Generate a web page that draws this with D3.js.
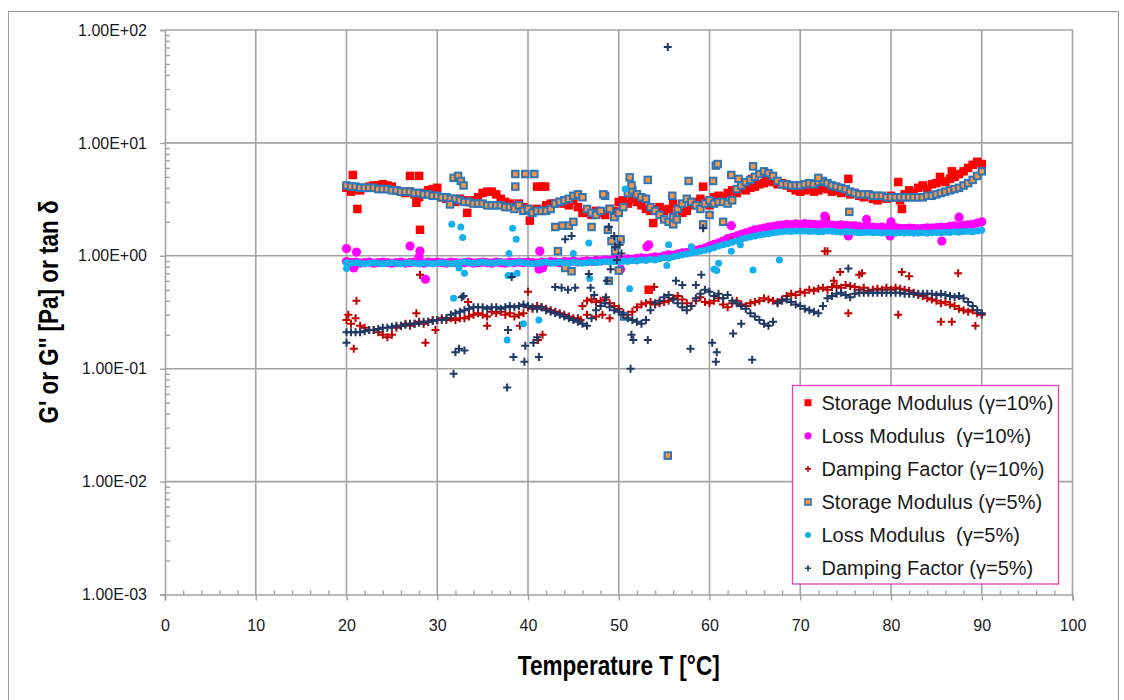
<!DOCTYPE html>
<html><head><meta charset="utf-8">
<script src="https://cdn.jsdelivr.net/npm/d3@7"></script>
<style>body{margin:0;background:#fff} text{font-family:"Liberation Sans",Arial,sans-serif}</style>
</head><body>
<svg id="c" width="1124" height="700"></svg>
<script>
const temperature = [
20,20.5,21,21.5,22,22.5,23,23.5,24,24.5,25,25.5,26,26.5,27,27.5,28,28.5,29,29.5,
30,30.5,31,31.5,32,32.5,33,33.5,34,34.5,35,35.5,36,36.5,37,37.5,38,38.5,39,39.5,
40,40.5,41,41.5,42,42.5,43,43.5,44,44.5,45,45.5,46,46.5,47,47.5,48,48.5,49,49.5,
50,50.5,51,51.5,52,52.5,53,53.5,54,54.5,55,55.5,56,56.5,57,57.5,58,58.5,59,59.5,
60,60.5,61,61.5,62,62.5,63,63.5,64,64.5,65,65.5,66,66.5,67,67.5,68,68.5,69,69.5,
70,70.5,71,71.5,72,72.5,73,73.5,74,74.5,75,75.5,76,76.5,77,77.5,78,78.5,79,79.5,
80,80.5,81,81.5,82,82.5,83,83.5,84,84.5,85,85.5,86,86.5,87,87.5,88,88.5,89,89.5,
90];

const storage10 = [
4.0,3.7,3.9,3.8,4.0,4.1,4.2,4.2,4.3,4.2,4.1,3.8,3.7,3.6,3.7,3.5,3.3,3.6,3.8,3.9,
4.0,3.3,3.2,3.1,3.0,3.2,3.1,3.0,3.1,3.3,3.6,3.7,3.7,3.5,3.2,3.0,2.9,2.8,2.9,2.7,
2.6,2.5,2.6,2.5,2.8,2.9,2.9,3.0,2.9,2.8,3.1,2.7,2.4,2.4,2.3,2.5,2.4,2.3,2.6,2.5,
3.0,3.1,2.9,3.2,3.0,2.8,2.6,2.5,2.6,2.7,2.5,2.6,2.9,2.6,2.4,2.5,2.8,3.0,3.2,3.0,
2.8,3.3,3.4,3.3,3.6,3.8,3.6,3.9,3.8,4.0,4.1,4.3,4.4,4.6,4.5,4.3,4.4,4.2,4.0,3.8,
3.7,3.8,3.9,3.7,3.8,4.0,3.9,3.7,3.8,3.6,3.7,3.5,3.6,3.4,3.3,3.5,3.2,3.1,3.3,3.2,
3.4,3.3,3.1,3.5,3.8,3.6,4.0,4.2,3.9,4.3,4.4,4.6,4.5,4.8,5.0,5.3,5.6,6.0,6.4,6.8,
6.5];
const storage10Extra = [[20.7,5.2],[21.2,2.6],[27.0,5.1],[28.0,5.1],[27.7,2.95],[28.1,1.7],[33.3,2.4],
[40.2,2.05],[41.0,4.1],[41.5,4.1],[41.9,4.1],[53.8,1.95],[53.3,0.5],[59.3,4.1],[72.8,2.1],[75.3,4.8],
[80.8,4.5],[81.2,2.6],[85.4,5.0],[86.7,5.6],[64.7,4.8],[66.2,4.8]];

const loss10 = [
0.89,0.87,0.88,0.86,0.87,0.88,0.86,0.87,0.88,0.87,0.86,0.87,0.88,0.86,0.87,0.88,0.87,0.86,0.88,0.87,
0.88,0.87,0.86,0.88,0.87,0.86,0.87,0.88,0.86,0.87,0.88,0.87,0.86,0.88,0.87,0.86,0.88,0.87,0.88,0.87,
0.88,0.87,0.86,0.88,0.87,0.89,0.88,0.87,0.89,0.88,0.90,0.88,0.89,0.90,0.89,0.91,0.90,0.92,0.91,0.93,
0.93,0.92,0.94,0.93,0.95,0.96,0.95,0.96,0.98,0.97,1.00,1.02,1.01,1.04,1.06,1.07,1.09,1.12,1.14,1.17,
1.22,1.26,1.30,1.35,1.42,1.46,1.50,1.55,1.60,1.65,1.70,1.72,1.76,1.80,1.82,1.85,1.87,1.90,1.88,1.92,
1.90,1.93,1.91,1.90,1.88,1.92,1.90,1.87,1.85,1.88,1.86,1.84,1.85,1.82,1.80,1.82,1.80,1.78,1.80,1.77,
1.76,1.78,1.75,1.74,1.76,1.75,1.73,1.75,1.77,1.76,1.78,1.80,1.79,1.82,1.84,1.83,1.86,1.88,1.90,1.95,
2.00];
const loss10Extra = [[20.0,1.16],[21.1,1.08],[20.8,0.78],[27.0,1.22],[28.1,1.10],[28.0,0.98],[28.7,0.62],
[41.3,1.10],[41.2,0.76],[41.6,0.78],[53.3,1.25],[50.2,0.76],[62.4,1.85],[72.7,2.25],[77.3,2.10],[80.0,2.0],
[75.3,1.50],[79.9,1.50],[85.6,1.35],[87.5,2.20],[53.1,1.2]];

const damping10 = [
0.27,0.25,0.28,0.24,0.23,0.22,0.22,0.21,0.20,0.19,0.20,0.23,0.24,0.25,0.24,0.25,0.26,0.25,0.26,0.27,
0.27,0.28,0.27,0.28,0.27,0.28,0.28,0.29,0.30,0.31,0.30,0.29,0.32,0.31,0.32,0.30,0.31,0.29,0.30,0.31,
0.35,0.34,0.36,0.35,0.34,0.33,0.32,0.31,0.30,0.29,0.28,0.28,0.36,0.40,0.41,0.39,0.40,0.41,0.38,0.36,
0.34,0.31,0.30,0.32,0.35,0.37,0.38,0.39,0.37,0.38,0.39,0.40,0.42,0.44,0.41,0.38,0.36,0.40,0.43,0.39,
0.38,0.40,0.42,0.37,0.35,0.38,0.40,0.37,0.36,0.38,0.39,0.40,0.42,0.41,0.40,0.39,0.41,0.44,0.46,0.45,
0.48,0.47,0.50,0.49,0.51,0.52,0.50,0.53,0.54,0.52,0.55,0.54,0.53,0.50,0.52,0.49,0.50,0.51,0.50,0.52,
0.50,0.52,0.51,0.50,0.49,0.47,0.45,0.44,0.42,0.41,0.40,0.38,0.39,0.37,0.36,0.34,0.33,0.32,0.33,0.31,
0.30];
const damping10Extra = [[20.2,0.30],[21.1,0.40],[20.8,0.15],[27.7,0.31],[28.1,0.68],[28.7,0.17],[29.8,0.22],
[33.4,0.39],[35.5,0.24],[40.0,0.48],[41.1,0.18],[41.6,0.20],[39.1,0.24],[45.8,0.27],[46.5,0.30],[47.5,0.29],
[48.2,0.30],[49.0,0.28],[53.9,0.53],[73.7,0.60],[72.7,1.10],[73.0,1.10],[62.4,1.35],[76.5,0.68],[75.3,0.31],
[81.2,0.72],[80.8,0.30],[87.4,0.70],[85.5,0.26],[86.7,0.26],[89.3,0.24],[74.4,0.72],[76.8,0.70],[82.0,0.66]];

const storage5 = [
4.2,4.1,4.1,4.0,4.0,4.0,4.0,3.9,3.9,3.9,3.8,3.8,3.7,3.7,3.7,3.6,3.6,3.5,3.5,3.4,
3.4,3.3,3.3,3.2,3.2,3.1,3.0,3.0,2.9,2.9,2.9,2.8,2.8,2.8,2.8,2.7,2.7,2.6,2.8,2.5,
2.6,2.4,2.5,2.5,2.5,2.6,2.9,3.0,3.1,3.2,3.4,3.5,3.3,2.6,2.4,2.3,2.5,3.4,2.6,2.2,
2.4,2.7,3.6,3.8,3.5,3.3,3.2,2.7,2.5,2.3,2.1,2.0,2.2,2.6,2.9,3.2,3.0,2.8,2.6,2.9,
3.1,2.9,3.0,3.0,2.9,3.1,3.9,4.2,4.5,4.7,5.0,5.3,5.6,5.4,5.1,4.6,4.3,4.3,4.2,4.2,
4.2,4.3,4.4,4.3,4.5,4.6,4.4,4.2,4.1,4.0,3.9,3.7,3.6,3.5,3.5,3.5,3.4,3.4,3.4,3.3,
3.3,3.3,3.3,3.3,3.3,3.3,3.3,3.3,3.4,3.4,3.5,3.6,3.7,3.8,3.9,4.0,4.2,4.4,4.7,5.1,
5.6];
const storage5Extra = [[31.8,4.9],[32.3,5.1],[32.6,4.6],[32.9,4.2],[31.4,2.85],[38.6,5.3],[39.7,5.3],[40.7,5.3],
[38.6,4.1],[43.0,1.8],[43.8,1.85],[44.5,1.85],[45.0,2.0],[47.0,1.8],[48.3,3.5],[48.8,1.7],[49.2,1.35],[50.2,1.4],
[49.6,1.1],[50.0,0.74],[48.9,0.6],[44.1,0.78],[44.8,0.73],[43.3,1.1],[51.2,4.95],[51.4,4.2],[53.2,4.7],[55.4,0.017],
[56.0,1.9],[56.4,2.1],[57.7,4.6],[59.3,1.9],[60.0,2.3],[60.4,4.6],[60.7,6.3],[60.9,6.5],[62.4,5.2],[61.5,2.0],
[64.8,6.2],[75.4,2.45],[55.9,3.4],[50.6,0.29],[63.2,4.8],[72.0,4.9]];

const loss5 = [
0.87,0.86,0.87,0.86,0.85,0.86,0.87,0.86,0.85,0.86,0.87,0.86,0.85,0.86,0.87,0.86,0.85,0.86,0.86,0.85,
0.86,0.87,0.86,0.85,0.86,0.87,0.88,0.87,0.86,0.87,0.88,0.87,0.86,0.87,0.88,0.87,0.86,0.87,0.88,0.87,
0.86,0.85,0.86,0.87,0.88,0.86,0.87,0.88,0.87,0.86,0.88,0.87,0.86,0.87,0.88,0.87,0.88,0.89,0.88,0.89,
0.88,0.90,0.89,0.91,0.90,0.92,0.91,0.93,0.92,0.94,0.96,0.95,0.98,1.00,1.02,1.04,1.06,1.08,1.10,1.12,
1.15,1.18,1.22,1.25,1.28,1.32,1.36,1.40,1.44,1.47,1.50,1.53,1.55,1.57,1.60,1.62,1.63,1.65,1.64,1.66,
1.65,1.66,1.64,1.65,1.63,1.64,1.66,1.65,1.63,1.62,1.64,1.63,1.62,1.60,1.61,1.62,1.60,1.61,1.59,1.60,
1.60,1.58,1.60,1.59,1.60,1.58,1.59,1.60,1.58,1.60,1.61,1.60,1.62,1.61,1.63,1.62,1.64,1.65,1.63,1.66,
1.68];
const loss5Extra = [[20.0,0.77],[31.6,1.9],[32.6,1.8],[32.8,1.45],[32.4,0.78],[33.0,0.7],[31.8,0.42],[37.8,0.67],
[37.7,0.18],[37.9,1.05],[38.3,1.75],[38.7,1.4],[38.2,0.67],[38.8,0.7],[39.5,0.25],[41.2,0.27],[46.7,1.3],[46.8,0.63],
[45.0,1.05],[50.7,3.9],[51.2,0.51],[55.5,1.25],[55.3,0.82],[58.0,1.2],[61.0,0.86],[60.5,0.76],[60.8,0.74],
[64.8,0.75],[67.7,0.92],[62.4,1.1],[63.4,1.25]];

const damping5 = [
0.21,0.21,0.21,0.21,0.215,0.22,0.22,0.225,0.23,0.23,0.235,0.24,0.24,0.245,0.25,0.25,0.255,0.26,0.26,0.265,
0.27,0.27,0.28,0.30,0.31,0.32,0.33,0.34,0.35,0.35,0.35,0.34,0.35,0.35,0.34,0.35,0.36,0.35,0.36,0.37,
0.36,0.35,0.34,0.35,0.33,0.32,0.31,0.30,0.29,0.28,0.27,0.26,0.25,0.24,0.28,0.33,0.36,0.38,0.35,0.33,
0.32,0.30,0.28,0.27,0.26,0.25,0.27,0.33,0.38,0.40,0.43,0.45,0.41,0.38,0.35,0.33,0.36,0.42,0.46,0.50,
0.48,0.44,0.46,0.42,0.45,0.40,0.38,0.36,0.34,0.31,0.29,0.27,0.25,0.24,0.26,0.38,0.40,0.41,0.39,0.37,
0.36,0.34,0.33,0.32,0.31,0.36,0.42,0.44,0.46,0.47,0.45,0.43,0.46,0.47,0.47,0.47,0.47,0.47,0.47,0.47,
0.47,0.47,0.47,0.46,0.46,0.46,0.46,0.46,0.46,0.46,0.45,0.46,0.45,0.44,0.43,0.44,0.42,0.39,0.36,0.33,
0.31];
const damping5Extra = [[20.0,0.17],[31.8,0.09],[32.0,0.14],[32.4,0.15],[33.0,0.145],[32.7,0.43],[32.9,0.44],
[37.7,0.068],[37.8,0.22],[38.2,0.65],[38.4,0.127],[39.6,0.115],[39.7,0.16],[40.6,0.17],[41.0,0.19],[41.2,0.127],
[43.0,0.53],[43.7,0.52],[44.4,0.5],[45.2,0.52],[44.1,1.4],[44.8,1.5],[46.7,0.69],[46.9,0.52],[48.9,1.8],[49.5,1.5],
[50.1,1.25],[50.3,1.05],[48.7,0.6],[49.1,0.76],[51.3,0.1],[51.4,0.2],[51.6,0.18],[53.2,0.18],[55.4,70.8],[57.9,0.15],
[59.1,0.68],[59.3,1.75],[60.3,0.17],[60.8,0.14],[60.7,0.115],[62.6,0.205],[63.5,0.25],[64.7,0.12],[75.3,0.77],
[56.3,0.6],[57.0,0.55],[58.5,0.55],[47.3,0.45],[48.6,0.43],[49.6,1.2],[49.8,0.92]];

const seriesNames = ["Storage Modulus (\u03b3=10%)","Loss Modulus  (\u03b3=10%)","Damping Factor (\u03b3=10%)",
  "Storage Modulus (\u03b3=5%)","Loss Modulus  (\u03b3=5%)","Damping Factor (\u03b3=5%)"];
const xTicks = [0,10,20,30,40,50,60,70,80,90,100];
const yTicks = [1e-3,1e-2,1e-1,1e0,1e1,1e2];
const xTitle = "Temperature T [\u00b0C]";
const yTitle = "G' or G'' [Pa] or tan \u03b4";

const svg = d3.select("#c");
const x = d3.scaleLinear().domain([0,100]).range([165,1072.5]);
const y = d3.scaleLog().domain([1e-3,1e2]).range([594.5,30]);
const gridC = "#a3a3a3";

// outer frame
svg.append("rect").attr("x",8.5).attr("y",11.5).attr("width",1110).attr("height",720)
  .attr("fill","#fff").attr("stroke","#9a9a9a").attr("stroke-width",1);

// gridlines
svg.append("g").selectAll("line").data(xTicks.slice(1)).join("line")
  .attr("x1",d=>x(d)).attr("x2",d=>x(d)).attr("y1",y(1e2)).attr("y2",y(1e-3))
  .attr("stroke",gridC).attr("stroke-width",1.6);
svg.append("g").selectAll("line").data(yTicks.slice(1)).join("line")
  .attr("x1",x(0)).attr("x2",x(100)).attr("y1",d=>y(d)).attr("y2",d=>y(d))
  .attr("stroke",gridC).attr("stroke-width",1.6);

const fmtE = v => { const e = Math.round(Math.log10(v)); return "1.00E" + (e<0?"-":"+") + String(Math.abs(e)).padStart(2,"0"); };

// y axis
const yAx = svg.append("g").attr("transform",`translate(${x(0)},0)`)
  .call(d3.axisLeft(y).tickValues(yTicks).tickFormat(fmtE).tickSize(5).tickPadding(13));
const minorY = [];
yTicks.slice(0,-1).forEach(d=>{ for(let k=2;k<=9;k++) minorY.push(d*k); });
const yMin = svg.append("g").attr("transform",`translate(${x(0)},0)`)
  .call(d3.axisLeft(y).tickValues(minorY).tickFormat("").tickSize(-5));
// x axis
const xAx = svg.append("g").attr("transform",`translate(0,${y(1e-3)})`)
  .call(d3.axisBottom(x).tickValues(xTicks).tickFormat(d3.format("d")).tickSize(6).tickPadding(19));
const minorX = d3.range(2,100,2).filter(v=>v%10!==0);
const xMin = svg.append("g").attr("transform",`translate(0,${y(1e-3)})`)
  .call(d3.axisBottom(x).tickValues(minorX).tickFormat("").tickSize(-4));
[yAx,yMin,xAx,xMin].forEach(g=>{
  g.select(".domain").attr("stroke",gridC).attr("stroke-width",1.6);
  g.selectAll(".tick line").attr("stroke",gridC).attr("stroke-width",1.4);
  g.selectAll(".tick text").attr("font-size",16).attr("fill","#1a1a1a")
    .attr("font-family","'Liberation Sans',Arial,sans-serif");
});
xMin.select(".domain").remove(); yMin.select(".domain").remove();

// titles
svg.append("text").attr("x",618.75).attr("y",675).attr("text-anchor","middle")
  .attr("font-family","'Liberation Sans Narrow','Arial Narrow',sans-serif").attr("font-weight","bold")
  .attr("font-size",27).attr("textLength",202).attr("lengthAdjust","spacingAndGlyphs").text(xTitle);
svg.append("text").attr("transform","translate(58,312) rotate(-90)").attr("text-anchor","middle")
  .attr("font-family","'Liberation Sans Narrow','Arial Narrow',sans-serif").attr("font-weight","bold")
  .attr("font-size",27).attr("textLength",223).attr("lengthAdjust","spacingAndGlyphs").text(yTitle);

// markers
const plus = s => `M${-s},0H${s}M0,${-s}V${s}`;
const styles = [
  {type:"sq", size:8.5, fill:"#ff0000", stroke:"none"},
  {type:"ci", size:4.6, fill:"#ff00ff", stroke:"none"},
  {type:"pl", size:4, stroke:"#c00000", sw:2},
  {type:"sq", size:6.5, fill:"#f79646", stroke:"#2e75b6", sw:2},
  {type:"ci", size:3.5, fill:"#14b0ee", stroke:"none"},
  {type:"pl", size:4, stroke:"#1f3864", sw:2}
];
const legendSizes = [7, 3.6, 3, 6, 3, 3];
const mains = [storage10,loss10,damping10,storage5,loss5,damping5];
const extras = [storage10Extra,loss10Extra,damping10Extra,storage5Extra,loss5Extra,damping5Extra];

function drawMarkers(g, pts, st) {
  if (st.type==="sq") {
    g.selectAll("rect").data(pts).join("rect")
      .attr("x",d=>x(d[0])-st.size/2).attr("y",d=>y(d[1])-st.size/2)
      .attr("width",st.size).attr("height",st.size)
      .attr("fill",st.fill).attr("stroke",st.stroke).attr("stroke-width",st.sw||0);
  } else if (st.type==="ci") {
    g.selectAll("circle").data(pts).join("circle")
      .attr("cx",d=>x(d[0])).attr("cy",d=>y(d[1])).attr("r",st.size).attr("fill",st.fill);
  } else {
    g.selectAll("path").data(pts).join("path")
      .attr("d",plus(st.size)).attr("transform",d=>`translate(${x(d[0])},${y(d[1])})`)
      .attr("stroke",st.stroke).attr("stroke-width",st.sw).attr("fill","none");
  }
}
mains.forEach((vals,i)=>{
  const pts = temperature.map((t,j)=>[t,vals[j]]).concat(extras[i]);
  drawMarkers(svg.append("g"), pts, styles[i]);
});

// legend
const lg = svg.append("g");
lg.append("rect").attr("x",792.5).attr("y",385.5).attr("width",266).attr("height",198.5)
  .attr("fill","#fff").attr("stroke","#dd3fbf").attr("stroke-width",1.3);
seriesNames.forEach((nm,i)=>{
  const cy = 402.7 + i*33.1;
  const st = styles[i], s = legendSizes[i];
  const g = lg.append("g");
  if (st.type==="sq") g.append("rect").attr("x",808-s/2).attr("y",cy-s/2).attr("width",s).attr("height",s)
      .attr("fill",st.fill).attr("stroke",st.stroke).attr("stroke-width",st.sw?1.6:0);
  else if (st.type==="ci") g.append("circle").attr("cx",808).attr("cy",cy).attr("r",s).attr("fill",st.fill);
  else g.append("path").attr("d",plus(s)).attr("transform",`translate(808,${cy})`).attr("stroke",st.stroke).attr("stroke-width",1.6);
  lg.append("text").attr("x",821.5).attr("y",cy).attr("dy","0.36em").attr("font-size",20).attr("fill","#1a1a1a")
    .attr("xml:space","preserve").text(nm);
});
</script>
</body></html>
